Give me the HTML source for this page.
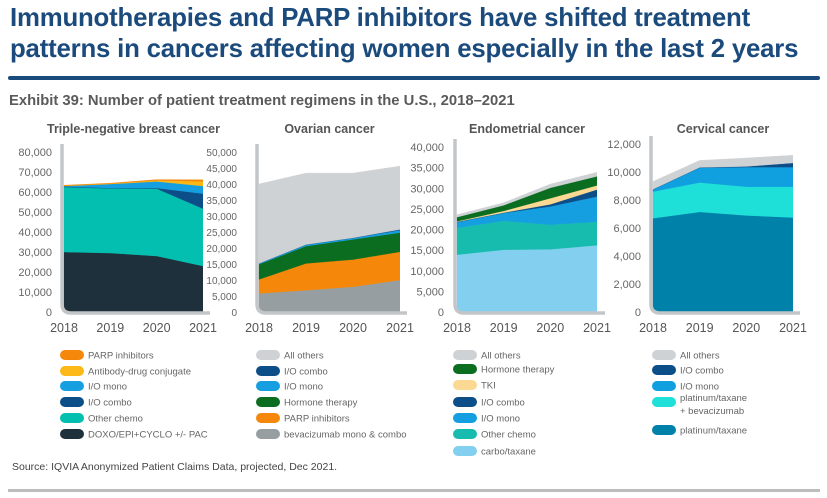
<!DOCTYPE html>
<html><head><meta charset="utf-8">
<style>
body{margin:0;background:#fff;font-family:"Liberation Sans",sans-serif;}
#wrap{position:relative;width:827px;height:498px;overflow:hidden;}
.t{position:absolute;white-space:nowrap;}
</style></head>
<body>
<div id="wrap">
<div class="t" style="left:10px;top:3px;font-size:25.8px;font-weight:bold;color:#1b4a7c;line-height:31px;letter-spacing:-0.2px;">Immunotherapies and PARP inhibitors have shifted treatment<br>patterns in cancers affecting women especially in the last 2 years</div>
<div style="position:absolute;left:8px;top:76px;width:812px;height:4px;background:#1b4a7c;border-radius:2px;"></div>
<div class="t" style="left:9px;top:93px;font-size:14.8px;font-weight:bold;color:#5a5a5a;">Exhibit 39: Number of patient treatment regimens in the U.S., 2018–2021</div>
<svg id="chart" width="827" height="498" style="position:absolute;left:0;top:0"></svg>
<div class="t" style="left:12px;top:461px;font-size:10.5px;color:#444;">Source: IQVIA Anonymized Patient Claims Data, projected, Dec 2021.</div>
<div style="position:absolute;left:8px;top:489px;width:812px;height:3px;background:#bdbdbd;"></div>
</div>
<script>
const years = ["2018","2019","2020","2021"];
// Triple-negative breast cancer (bottom to top)
const tnbcSeries = ["DOXO/EPI+CYCLO +/- PAC","Other chemo","I/O combo","I/O mono","Antibody-drug conjugate","PARP inhibitors"];
const tnbcDoxo = [30000,29500,28000,23000];
const tnbcOtherChemo = [32500,32300,33700,28700];
const tnbcIoCombo = [300,200,300,7500];
const tnbcIoMono = [200,2000,3300,3800];
const tnbcAdc = [200,200,500,2300];
const tnbcParp = [200,200,400,800];
const tnbcTicks = [0,10000,20000,30000,40000,50000,60000,70000,80000];
// Ovarian
const ovSeries = ["bevacizumab mono & combo","PARP inhibitors","Hormone therapy","I/O mono","I/O combo","All others"];
const ovBev = [5800,6800,7900,10000];
const ovParp = [4400,8400,8500,8800];
const ovHormone = [4700,5400,6300,6000];
const ovIoMono = [200,400,400,800];
const ovIoCombo = [100,100,100,200];
const ovOthers = [24800,22300,20200,19800];
const ovTicks = [0,5000,10000,15000,20000,25000,30000,35000,40000,45000,50000];
// Endometrial
const enSeries = ["carbo/taxane","Other chemo","I/O mono","I/O combo","TKI","Hormone therapy","All others"];
const enCarbo = [13900,15100,15200,16200];
const enOtherChemo = [6500,7000,6000,5700];
const enIoMono = [1400,1900,4400,6100];
const enIoCombo = [100,100,500,1700];
const enTki = [100,400,1500,1000];
const enHormone = [1000,1400,2500,2200];
const enOthers = [600,600,900,1000];
const enTicks = [0,5000,10000,15000,20000,25000,30000,35000,40000];
// Cervical
const cvSeries = ["platinum/taxane","platinum/taxane + bevacizumab","I/O mono","I/O combo","All others"];
const cvPlat = [6700,7150,6900,6750];
const cvPlatBev = [1900,2100,2050,2200];
const cvIoMono = [150,1050,1400,1400];
const cvIoCombo = [20,30,50,300];
const cvOthers = [550,500,600,550];
const cvTicks = [0,2000,4000,6000,8000,10000,12000];

const NS="http://www.w3.org/2000/svg";
const svg=document.getElementById('chart');
function mk(tag,attrs,parent){const e=document.createElementNS(NS,tag);for(const k in attrs)e.setAttribute(k,attrs[k]);(parent||svg).appendChild(e);return e;}

const charts=[
 {id:"tnbc",title:"Triple-negative breast cancer",x0:64,x1:203,base:312,top:152,max:80000,ticks:tnbcTicks,lblR:52,ax:62,axEnd:210,tf:11,
  series:[tnbcDoxo,tnbcOtherChemo,tnbcIoCombo,tnbcIoMono,tnbcAdc,tnbcParp],names:tnbcSeries,
  colors:["#1f303d","#03bfb0","#0c4e88","#159fe0","#fbb816","#f5880a"],
  legX:60,legY:[355,371,386,402,418,434],legOrder:[5,4,3,2,1,0]},
 {id:"ovarian",title:"Ovarian cancer",x0:259,x1:400,base:312,top:152,max:50000,ticks:ovTicks,lblR:237,ax:257,axEnd:407,tf:10,
  series:[ovBev,ovParp,ovHormone,ovIoMono,ovIoCombo,ovOthers],names:ovSeries,
  colors:["#979ea1","#f5880a","#0b6d1f","#159fe0","#0c4e88","#cfd2d5"],
  legX:256,legY:[355,371,386,402,418,434],legOrder:[5,4,3,2,1,0]},
 {id:"endometrial",title:"Endometrial cancer",x0:457,x1:597,base:312,top:147,max:40000,ticks:enTicks,lblR:444,ax:455,axEnd:605,tf:11,
  series:[enCarbo,enOtherChemo,enIoMono,enIoCombo,enTki,enHormone,enOthers],names:enSeries,
  colors:["#82cff0","#17bcae","#159fe0","#0c4e88","#fbd993","#0b6d1f","#cfd2d5"],
  legX:453,legY:[355,369,385,402,418,434,451],legOrder:[6,5,4,3,2,1,0]},
 {id:"cervical",title:"Cervical cancer",x0:653,x1:793,base:312,top:144,max:12000,ticks:cvTicks,lblR:641,ax:651,axEnd:800,tf:11,
  series:[cvPlat,cvPlatBev,cvIoMono,cvIoCombo,cvOthers],names:cvSeries,
  colors:["#0081a9","#1fe0d8","#10a0e0","#0c4e88","#cfd2d5"],
  legX:652,legY:[355,370,386,402,430],legOrder:[4,3,2,1,0]}
];

charts.forEach(c=>{
  const g=mk('g',{});
  
  
  const xs=i=>c.x0+(c.x1-c.x0)*i/(years.length-1);
  const ys=v=>c.base-(c.base-c.top)*v/c.max;
  const cx=(c.x0+c.x1)/2;
  const t=mk('text',{x:cx,y:133,'text-anchor':'middle','font-size':12.5,fill:'#555','font-weight':'bold','font-family':'Liberation Sans, sans-serif'},g);
  t.textContent=c.title;
  
  
  const cp=mk('clipPath',{id:'cp-'+c.id},g);
  mk('path',{d:`M${c.x0-2},0 L${c.x1},0 L${c.x1},${c.base} L${c.x0+8},${c.base} Q${c.x0-2},${c.base} ${c.x0-2},${c.base-10} Z`},cp);
  const ag=mk('g',{'clip-path':'url(#cp-'+c.id+')'},g);
  let cum=years.map(()=>0);
  c.series.forEach((s,si)=>{
    const lo=cum.slice();
    cum=cum.map((v,i)=>v+s[i]);
    let d='';
    cum.forEach((v,i)=>{d+=(i?'L':'M')+xs(i).toFixed(1)+','+ys(v).toFixed(1);});
    for(let i=lo.length-1;i>=0;i--) d+='L'+xs(i).toFixed(1)+','+ys(lo[i]).toFixed(1);
    d+='Z';
    const p=mk('path',{d:d,fill:c.colors[si],stroke:c.colors[si],'stroke-width':0.4},ag);
    
    
  });
  const ax=mk('path',{d:`M${c.ax},${c.top-8} L${c.ax},${c.base-8} Q${c.ax},${c.base+1} ${c.ax+9},${c.base+1} L${c.axEnd},${c.base+1}`,fill:'none',stroke:'#c3c6c9','stroke-width':3.5},g);
  
  
  c.ticks.forEach(v=>{
    const tl=mk('text',{x:c.lblR,y:ys(v)+4,'text-anchor':'end','font-size':c.tf,fill:'#666','font-family':'Liberation Sans, sans-serif'},g);
    tl.textContent=v.toLocaleString('en-US');
    
    
  });
  years.forEach((y,i)=>{
    const tl=mk('text',{x:xs(i),y:332,'text-anchor':'middle','font-size':12.5,fill:'#555','font-family':'Liberation Sans, sans-serif'},g);
    tl.textContent=y;
    
    
  });
  c.legOrder.forEach((si,k)=>{
    const ly=c.legY[k];
    const sw=mk('rect',{x:c.legX,y:ly-5,width:24,height:10,rx:5,fill:c.colors[si]},g);
    
    
    const name=c.names[si];
    const lt=mk('text',{x:c.legX+28,y:ly+3.5,'font-size':9.5,fill:'#666','font-family':'Liberation Sans, sans-serif'},g);
    
    
    if(name==="platinum/taxane + bevacizumab"){
      lt.setAttribute('y',ly-1);
      const a=mk('tspan',{x:c.legX+28},lt);a.textContent="platinum/taxane";
      const b=mk('tspan',{x:c.legX+28,dy:13},lt);b.textContent="+ bevacizumab";
    } else lt.textContent=name;
  });
});
</script>
</body></html>
